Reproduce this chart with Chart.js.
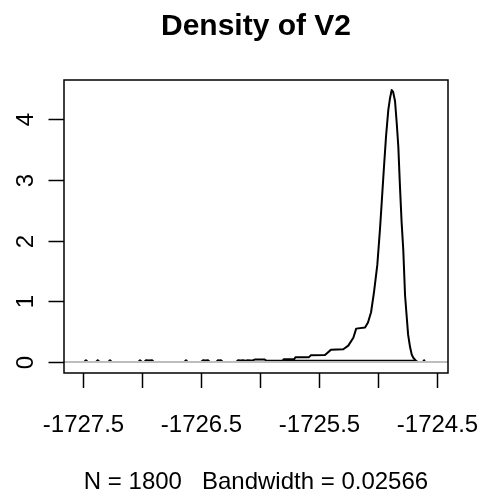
<!DOCTYPE html>
<html>
<head>
<meta charset="utf-8">
<script src="https://cdn.jsdelivr.net/npm/chart.js@4.4.1/dist/chart.umd.min.js"></script>
<style>
  html, body { margin: 0; padding: 0; background: #ffffff; }
  #wrap { width: 487px; height: 499px; position: relative; }
</style>
</head>
<body>
<div id="wrap"><canvas id="c"></canvas></div>
<script>
// ---- data ----
const titleText = "Density of V2";
const subText = "N = 1800   Bandwidth = 0.02566";

const densX = [
  -1727.56, -1727.49, -1727.475, -1727.46,
  -1727.39, -1727.375, -1727.36,
  -1727.285, -1727.271, -1727.257,
  -1727.03, -1727.017, -1727.0,
  -1726.98, -1726.966, -1726.94, -1726.915, -1726.9,
  -1726.64, -1726.627, -1726.614,
  -1726.50, -1726.483, -1726.462, -1726.441, -1726.425,
  -1726.37, -1726.356, -1726.343, -1726.331, -1726.315,
  -1726.20, -1726.186, -1726.165, -1726.144, -1726.125, -1726.102, -1726.08, -1726.059,
  -1726.045, -1725.96, -1725.945, -1725.81, -1725.80, -1725.71, -1725.70,
  -1725.585, -1725.57, -1725.45, -1725.43, -1725.40, -1725.294, -1725.252,
  -1725.209, -1725.185, -1725.110, -1725.085, -1725.059, -1725.034, -1725.006,
  -1724.983, -1724.969, -1724.950, -1724.932, -1724.913, -1724.898, -1724.884,
  -1724.872, -1724.856, -1724.842, -1724.828, -1724.814, -1724.800, -1724.786,
  -1724.771, -1724.757, -1724.745, -1724.729, -1724.714, -1724.701, -1724.678,
  -1724.66, -1724.62, -1724.61, -1724.60, -1724.53
];
const densY = [
  0, 0, 0.03, 0,
  0, 0.03, 0,
  0, 0.03, 0,
  0, 0.03, 0,
  0, 0.03, 0.025, 0.03, 0,
  0, 0.03, 0,
  0, 0.03, 0.025, 0.03, 0,
  0, 0.03, 0.025, 0.03, 0,
  0, 0.03, 0.025, 0.03, 0.02, 0.03, 0.025, 0.03,
  0.04, 0.04, 0.02, 0.02, 0.045, 0.045, 0.077,
  0.08, 0.11, 0.115, 0.15, 0.20, 0.21, 0.27,
  0.40, 0.55, 0.57, 0.65, 0.82, 1.15, 1.60,
  2.20, 2.62, 3.20, 3.72, 4.15, 4.35, 4.48,
  4.45, 4.30, 3.95, 3.55, 2.89, 2.30, 1.85,
  1.10, 0.75, 0.45, 0.25, 0.12, 0.07, 0.02,
  0, 0, 0.03, 0, 0
];
// dark trace along the baseline under the main mass
const baseX = [-1725.80, -1724.68];
const baseY = [0.02, 0.02];

const xTickValues = [-1727.5, -1727, -1726.5, -1726, -1725.5, -1725, -1724.5];
const xTickLabels = ["-1727.5", "", "-1726.5", "", "-1725.5", "", "-1724.5"];
const yTickValues = [0, 1, 2, 3, 4];
const yTickLabels = ["0", "1", "2", "3", "4"];

const xMin = -1727.661, xMax = -1724.407;
const yMin = -0.181, yMax = 4.646;

// ---- build datasets ----
const densPts = densX.map((x, i) => ({ x: x, y: densY[i] }));
const basePts = baseX.map((x, i) => ({ x: x, y: baseY[i] }));

const FONT = '"Liberation Sans", Arial, Helvetica, sans-serif';

const rAxes = {
  id: 'rAxes',
  afterDatasetsDraw(chart) {
    const ctx = chart.ctx;
    const xs = chart.scales.x, ys = chart.scales.y;
    const a = chart.chartArea;
    ctx.save();
    // zero line (gray), drawn over the curve like R's plot.density
    const y0 = ys.getPixelForValue(0);
    ctx.strokeStyle = '#bebebe';
    ctx.lineWidth = 2;
    ctx.beginPath();
    ctx.moveTo(a.left, y0);
    ctx.lineTo(a.right, y0);
    ctx.stroke();
    ctx.restore();
  },
  afterDraw(chart) {
    const ctx = chart.ctx;
    const xs = chart.scales.x, ys = chart.scales.y;
    const a = chart.chartArea;
    ctx.save();
    ctx.strokeStyle = '#000';
    ctx.fillStyle = '#000';
    ctx.lineWidth = 1.5;
    // box
    ctx.strokeRect(a.left, a.top, a.right - a.left, a.bottom - a.top);
    // x ticks
    ctx.font = '24px ' + FONT;
    ctx.textAlign = 'center';
    ctx.textBaseline = 'alphabetic';
    xTickValues.forEach((v, i) => {
      const px = Math.round(xs.getPixelForValue(v)) + 0.5;
      ctx.beginPath();
      ctx.moveTo(px, a.bottom);
      ctx.lineTo(px, a.bottom + 15);
      ctx.stroke();
      if (xTickLabels[i]) ctx.fillText(xTickLabels[i], px, 432);
    });
    // y ticks
    yTickValues.forEach((v, i) => {
      const py = Math.round(ys.getPixelForValue(v)) + 0.5;
      ctx.beginPath();
      ctx.moveTo(a.left, py);
      ctx.lineTo(a.left - 15.5, py);
      ctx.stroke();
      ctx.save();
      ctx.translate(33, py);
      ctx.rotate(-Math.PI / 2);
      ctx.textAlign = 'center';
      ctx.textBaseline = 'alphabetic';
      ctx.fillText(yTickLabels[i], 0, 0);
      ctx.restore();
    });
    // title
    const cx = (a.left + a.right) / 2;
    ctx.font = 'bold 30px ' + FONT;
    ctx.textAlign = 'center';
    ctx.fillText(titleText, cx, 35);
    // sub
    ctx.font = '24px ' + FONT;
    ctx.fillText(subText, cx, 489);
    ctx.restore();
  }
};

new Chart(document.getElementById('c'), {
  type: 'line',
  data: {
    datasets: [
      { label: 'density', data: densPts, borderColor: '#000', borderWidth: 2,
        pointRadius: 0, tension: 0, fill: false, borderJoinStyle: 'round' },
      { label: 'base', data: basePts, borderColor: '#000', borderWidth: 2,
        pointRadius: 0, tension: 0, fill: false }
    ]
  },
  options: {
    responsive: true,
    maintainAspectRatio: false,
    animation: false,
    events: [],
    layout: { padding: { left: 64, right: 39, top: 80, bottom: 126 } },
    plugins: { legend: { display: false }, title: { display: false }, tooltip: { enabled: false } },
    scales: {
      x: { type: 'linear', min: xMin, max: xMax, display: false },
      y: { type: 'linear', min: yMin, max: yMax, display: false }
    }
  },
  plugins: [rAxes]
});
</script>
</body>
</html>
